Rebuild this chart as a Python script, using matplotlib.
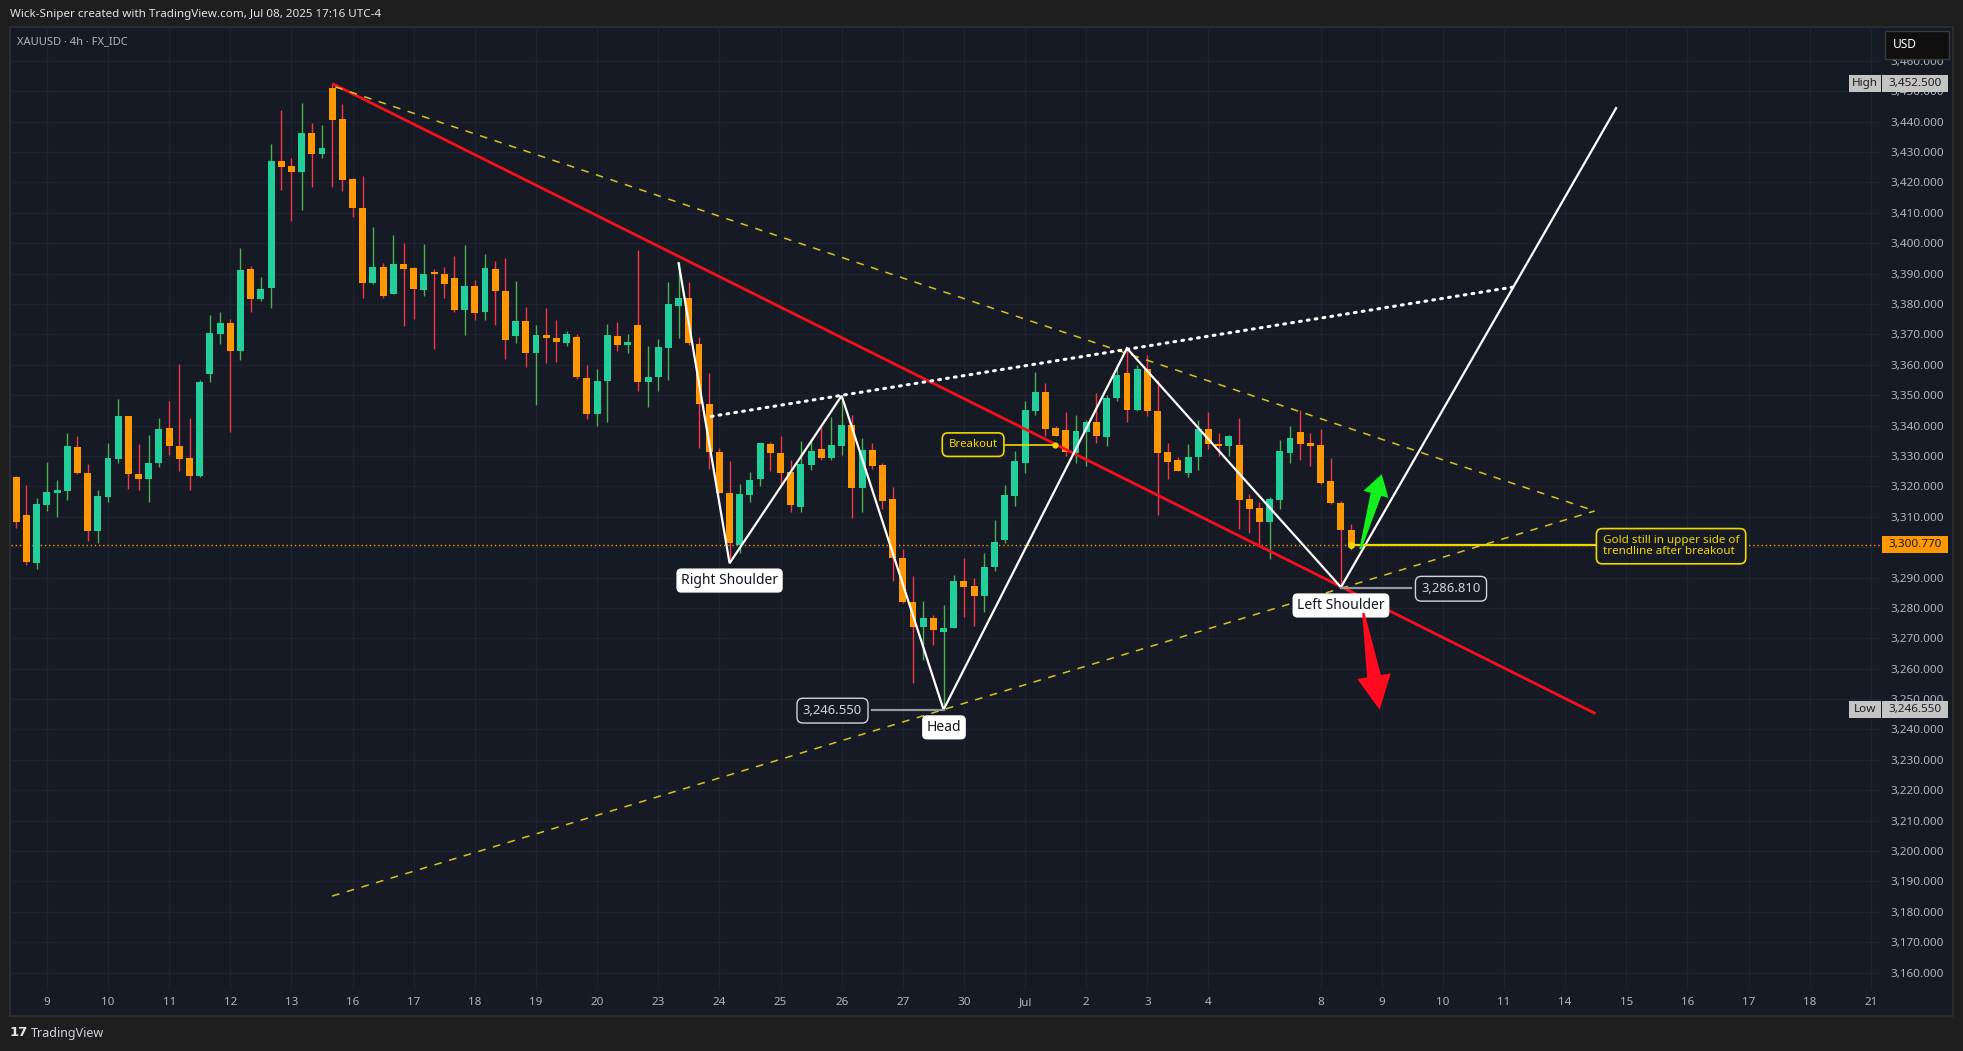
import numpy as np
import matplotlib
matplotlib.use("Agg")
import matplotlib.pyplot as plt
from matplotlib.patches import Rectangle, Polygon
from matplotlib.transforms import blended_transform_factory, IdentityTransform

plt.rcParams['font.family'] = ['Noto Sans', 'DejaVu Sans']

# ---------------- data ----------------
first_bar = -3  # bar index of first candle (0 = first bar of Jun 9)
opens = [3323.1, 3310.6, 3294.9, 3314.0, 3317.9, 3318.6, 3333.0, 3324.4, 3305.4, 3316.6,
         3329.1, 3343.2, 3324.1, 3322.5, 3327.8, 3339.2, 3333.3, 3329.3, 3323.4, 3356.8,
         3370.2, 3373.7, 3364.6, 3391.5, 3381.7, 3385.4, 3427.0, 3425.4, 3423.5, 3436.2,
         3429.4, 3451.0, 3440.8, 3421.1, 3411.6, 3386.9, 3392.2, 3383.4, 3393.2, 3391.7,
         3384.7, 3390.2, 3389.9, 3388.5, 3378.1, 3385.9, 3377.5, 3391.5, 3384.3, 3369.6,
         3374.4, 3363.7, 3369.8, 3368.7, 3367.3, 3369.1, 3355.7, 3343.9, 3354.5, 3369.5,
         3366.6, 3373.1, 3354.4, 3356.1, 3365.6, 3379.4, 3382.0, 3366.8, 3347.1, 3331.4,
         3317.7, 3300.7, 3317.2, 3322.4, 3333.9, 3330.9, 3324.6, 3313.3, 3327.0, 3332.3,
         3329.2, 3333.3, 3340.2, 3319.4, 3332.0, 3327.0, 3315.8, 3296.3, 3282.1, 3273.6,
         3276.8, 3272.0, 3273.3, 3288.7, 3287.2, 3284.0, 3293.3, 3302.2, 3316.8, 3327.8,
         3344.8, 3351.0, 3339.3, 3338.6, 3330.9, 3337.9, 3341.2, 3336.2, 3349.2, 3357.3,
         3345.1, 3358.6, 3344.8, 3331.3, 3328.7, 3324.5, 3329.5, 3338.9, 3333.9, 3333.1,
         3333.6, 3315.9, 3312.8, 3308.1, 3315.5, 3331.1, 3338.0, 3334.2, 3333.6, 3321.6,
         3314.6, 3305.7]
highs = [3323.4, 3320.5, 3316.2, 3328.0, 3322.1, 3337.6, 3336.6, 3327.4, 3318.8, 3334.2,
         3348.7, 3343.2, 3334.0, 3336.9, 3342.5, 3348.1, 3360.3, 3342.5, 3355.0, 3376.4,
         3377.4, 3375.1, 3398.4, 3392.5, 3388.9, 3432.6, 3443.8, 3428.0, 3446.1, 3439.5,
         3438.9, 3452.5, 3445.8, 3421.5, 3422.1, 3405.3, 3393.5, 3402.7, 3400.1, 3392.2,
         3399.7, 3391.5, 3392.2, 3395.8, 3399.4, 3387.9, 3396.4, 3394.1, 3395.0, 3387.6,
         3379.0, 3373.1, 3378.7, 3374.7, 3371.1, 3370.0, 3359.9, 3358.6, 3373.4, 3374.1,
         3370.1, 3397.8, 3366.0, 3368.5, 3387.3, 3393.4, 3387.3, 3369.2, 3357.2, 3332.5,
         3328.3, 3320.8, 3324.8, 3334.2, 3334.6, 3336.6, 3328.7, 3335.0, 3335.5, 3339.6,
         3342.7, 3349.5, 3343.5, 3335.8, 3334.2, 3327.6, 3319.7, 3299.3, 3290.5, 3282.4,
         3277.7, 3281.0, 3290.9, 3296.3, 3289.8, 3298.2, 3309.0, 3320.5, 3331.6, 3347.9,
         3357.6, 3353.9, 3339.9, 3344.5, 3343.5, 3341.8, 3350.6, 3350.1, 3359.9, 3365.4,
         3359.9, 3363.2, 3355.0, 3334.2, 3329.6, 3334.0, 3341.8, 3344.4, 3337.7, 3336.9,
         3342.6, 3317.5, 3315.0, 3316.6, 3335.3, 3339.9, 3345.1, 3337.5, 3338.8, 3329.2,
         3315.3, 3307.6]
lows = [3306.4, 3294.1, 3292.8, 3312.0, 3310.0, 3315.5, 3324.1, 3302.1, 3301.3, 3315.0,
        3327.6, 3319.2, 3318.9, 3315.0, 3326.5, 3330.3, 3325.2, 3318.8, 3323.2, 3354.4,
        3366.8, 3338.0, 3361.6, 3377.2, 3381.1, 3378.8, 3417.5, 3407.4, 3410.9, 3418.6,
        3428.1, 3418.3, 3417.3, 3408.7, 3382.1, 3386.7, 3382.1, 3383.4, 3372.9, 3375.2,
        3382.7, 3365.3, 3381.8, 3377.5, 3369.9, 3374.8, 3374.8, 3373.2, 3362.0, 3367.0,
        3359.4, 3346.9, 3360.7, 3361.0, 3366.0, 3355.3, 3342.0, 3339.7, 3341.3, 3364.5,
        3364.0, 3351.4, 3346.2, 3351.2, 3355.1, 3368.9, 3366.5, 3332.5, 3325.7, 3317.7,
        3294.7, 3298.0, 3315.0, 3320.1, 3325.2, 3321.0, 3311.4, 3311.7, 3325.4, 3328.5,
        3328.5, 3330.3, 3309.5, 3311.4, 3325.6, 3312.7, 3288.7, 3281.5, 3255.2, 3262.9,
        3267.8, 3246.55, 3273.3, 3276.9, 3273.9, 3278.5, 3292.3, 3301.5, 3313.6, 3324.5,
        3343.5, 3336.4, 3336.4, 3330.1, 3327.8, 3326.8, 3334.4, 3333.1, 3347.9, 3341.3,
        3344.8, 3343.2, 3310.6, 3322.4, 3324.9, 3322.9, 3325.4, 3332.3, 3330.1, 3330.1,
        3306.0, 3304.6, 3300.2, 3296.0, 3312.6, 3327.8, 3328.7, 3326.8, 3320.7, 3314.2,
        3286.81, 3298.9]
closes = [3308.4, 3295.2, 3314.2, 3318.2, 3318.8, 3333.3, 3324.5, 3305.4, 3316.8, 3329.3,
          3343.2, 3324.2, 3322.5, 3327.7, 3338.9, 3333.1, 3329.1, 3323.5, 3354.3, 3370.5,
          3373.7, 3364.6, 3391.2, 3381.7, 3384.9, 3427.0, 3425.2, 3423.5, 3436.2, 3429.4,
          3431.3, 3440.5, 3420.9, 3411.4, 3387.0, 3392.2, 3382.7, 3393.2, 3391.6, 3385.0,
          3389.9, 3390.0, 3386.7, 3378.1, 3385.9, 3377.1, 3391.8, 3384.4, 3368.0, 3374.4,
          3363.7, 3369.8, 3368.9, 3367.6, 3370.1, 3355.8, 3343.9, 3354.7, 3369.8, 3366.5,
          3367.5, 3354.4, 3356.0, 3365.8, 3380.0, 3382.0, 3367.3, 3347.0, 3331.4, 3317.7,
          3301.5, 3317.5, 3322.1, 3334.2, 3330.8, 3324.5, 3313.7, 3327.2, 3331.5, 3329.2,
          3333.5, 3340.2, 3319.4, 3332.0, 3326.8, 3315.3, 3296.3, 3281.8, 3273.6, 3276.6,
          3272.8, 3273.5, 3288.7, 3287.0, 3284.0, 3293.4, 3301.7, 3317.2, 3328.3, 3345.1,
          3351.0, 3339.0, 3336.6, 3331.4, 3338.2, 3341.2, 3336.7, 3349.2, 3356.6, 3345.1,
          3358.6, 3344.8, 3331.1, 3328.1, 3325.2, 3329.5, 3338.9, 3333.8, 3333.1, 3336.6,
          3315.5, 3312.6, 3308.1, 3315.7, 3331.6, 3336.0, 3333.9, 3333.4, 3321.1, 3314.4,
          3305.7, 3300.77]

day_labels = ['9', '10', '11', '12', '13', '16', '17', '18', '19', '20', '23', '24', '25',
              '26', '27', '30', 'Jul', '2', '3', '4', '8', '9', '10', '11', '14', '15',
              '16', '17', '18', '21']
day_label_bars = [0, 6, 12, 18, 24, 30, 36, 42, 48, 54, 60, 66, 72, 78, 84, 90, 96, 102,
                  108, 114, 125, 131, 137, 143, 149, 155, 161, 167, 173, 179]
price_ticks = list(range(3160, 3461, 10))

last_price = 3300.77
high_price = 3452.5
low_price = 3246.55

# drawing anchors (bar index, price)
red_trend_x = [28.0, 152.0]
red_trend_y = [3452.5, 3245.2]
upper_dash_x = [28.3, 151.9]
upper_dash_y = [3451.4, 3311.9]
lower_dash_x = [28.0, 151.9]
lower_dash_y = [3185.2, 3311.9]
zigzag_x = [62, 67, 78, 88, 106, 127, 154]
zigzag_y = [3393.4, 3294.7, 3349.8, 3246.55, 3365.4, 3286.81, 3444.4]
neck_x = [65.2, 143.8]
neck_y = [3343.0, 3385.5]
green_arrow = [(128.9, 3299.3), (131.0, 3324.0)]
red_arrow = [(129.2, 3278.3), (130.8, 3246.5)]

# ---------------- layout ----------------
W, H = 1963, 1051
BG_OUT = '#1e1e1e'
BG = '#161a25'
GRID = '#1f2330'
TXT = '#b2b5be'
GREEN = '#22cf9b'
ORANGE = '#ff9800'
GREEN_WICK = '#4caf50'
RED_WICK = '#f23645'
YEL = '#f2d600'
DASH_YEL = '#d4c41c'

fig = plt.figure(figsize=(W / 100, H / 100), dpi=100, facecolor=BG_OUT)


def fx(px):
    return px / W


def fy(py):
    return 1 - py / H


# panel
fig.patches.append(Rectangle((fx(10), fy(1016)), fx(1953) - fx(10), fy(27) - fy(1016),
                             transform=fig.transFigure, fc=BG, ec='#2c2f38', lw=1.2, zorder=-5))

ax_l, ax_r, ax_t, ax_b = 11, 1881, 27, 990
ax = fig.add_axes([fx(ax_l), fy(ax_b), fx(ax_r) - fx(ax_l), fy(ax_t) - fy(ax_b)])
ax.set_facecolor('none')
for s in ax.spines.values():
    s.set_visible(False)
ax.set_xlim(-3.52, 180.0)
ax.set_ylim(3154.3, 3471.1)

# grid
for p in price_ticks:
    ax.axhline(p, color=GRID, lw=0.9, zorder=0)
for b in day_label_bars:
    ax.axvline(b, color=GRID, lw=0.9, zorder=0)

# candles
o = np.array(opens); h = np.array(highs); l = np.array(lows); c = np.array(closes)
x = np.arange(len(o)) + first_bar
up = c >= o
ax.vlines(x, l, h, colors=np.where(up, GREEN_WICK, RED_WICK), lw=1.0, zorder=2)
bottoms = np.minimum(o, c)
heights = np.maximum(np.abs(c - o), 0.35)
ax.bar(x, heights, bottom=bottoms, width=0.68, color=np.where(up, GREEN, ORANGE),
       linewidth=0, zorder=3)

# last price dotted line
ax.axhline(last_price, color=ORANGE, lw=1.0, ls=(0, (1, 2)), zorder=1)

# trend lines
ax.plot(red_trend_x, red_trend_y, color='#f5101c', lw=2.0, zorder=5, solid_capstyle='butt')
ax.plot(upper_dash_x, upper_dash_y, color=DASH_YEL, lw=1.1, ls=(0, (5, 5)), zorder=5)
ax.plot(lower_dash_x, lower_dash_y, color=DASH_YEL, lw=1.1, ls=(0, (5, 5)), zorder=5)
ax.plot(zigzag_x, zigzag_y, color='white', lw=1.6, zorder=6, solid_joinstyle='miter')
ax.plot(neck_x, neck_y, color='white', lw=2.2, ls=(0, (0.6, 2.0)), dash_capstyle='round', zorder=6)

# ticks
ax.yaxis.tick_right()
ax.set_yticks(price_ticks)
ax.set_yticklabels([f"{v:,.3f}" for v in price_ticks])
ax.tick_params(axis='y', length=0, pad=6.5, labelsize=8.4, labelcolor=TXT)
ax.set_xticks(day_label_bars)
ax.set_xticklabels(day_labels)
ax.tick_params(axis='x', length=0, pad=5, labelsize=8.4, labelcolor=TXT)
for t in ax.get_xticklabels():
    if t.get_text() == 'Jul':
        t.set_fontweight('bold')

# labels on chart
def white_label(xv, yv, txt):
    ax.text(xv, yv, txt, ha='center', va='center', fontsize=10, color='#131722', zorder=9,
            bbox=dict(boxstyle='round,pad=0.28,rounding_size=0.3', fc='white', ec='white', lw=1))


def dark_label(xv, yv, txt):
    ax.text(xv, yv, txt, ha='center', va='center', fontsize=9.4, color='#d1d4dc', zorder=9,
            bbox=dict(boxstyle='round,pad=0.45,rounding_size=0.45', fc=BG, ec='#d1d4dc', lw=1))


white_label(67.0, 3289.0, 'Right Shoulder')
white_label(88.04, 3240.7, 'Head')
white_label(127.0, 3280.8, 'Left Shoulder')

ax.plot([81.0, 88.0], [low_price, low_price], color='#9598a1', lw=1.6, zorder=7)
dark_label(77.1, 3246.2, '3,246.550')
ax.plot([127.0, 133.9], [3286.5, 3286.5], color='#9598a1', lw=1.6, zorder=7)
dark_label(137.8, 3286.3, '3,286.810')

ax.plot([94.0, 98.9], [3333.7, 3333.7], color=YEL, lw=1.2, zorder=7)
ax.plot([98.9], [3333.7], 'o', color=YEL, ms=3.5, zorder=8)
ax.text(90.9, 3333.7, 'Breakout', ha='center', va='center', fontsize=8.2, color=YEL, zorder=9,
        bbox=dict(boxstyle='round,pad=0.55,rounding_size=0.5', fc=BG, ec=YEL, lw=1.2))

ax.plot([128.0, 151.9], [last_price, last_price], color=YEL, lw=1.6, zorder=7)
ax.plot([128.0], [last_price], 'o', color=YEL, ms=4, zorder=8)
ax.text(152.7, 3300.3, 'Gold still in upper side of\ntrendline after breakout', ha='left',
        va='center', fontsize=8.4, color=YEL, zorder=9, linespacing=1.05,
        bbox=dict(boxstyle='round,pad=0.55,rounding_size=0.5', fc=BG, ec=YEL, lw=1.2))


# fat arrows (drawn in pixel space)
def fat_arrow(tail, tip, head_len, head_w, w_tail, w_neck, color):
    T = ax.transData.transform(tail)
    P = ax.transData.transform(tip)
    d = (P - T) / np.hypot(*(P - T))
    n = np.array([-d[1], d[0]])
    B = P - d * head_len
    pts = [T + n * w_tail / 2, B + n * w_neck / 2, B + n * head_w / 2, P,
           B - n * head_w / 2, B - n * w_neck / 2, T - n * w_tail / 2]
    fig.patches.append(Polygon(pts, closed=True, transform=IdentityTransform(),
                               fc=color, ec='none', zorder=8))


fat_arrow(green_arrow[0], green_arrow[1], 21, 26, 2, 11, '#14f01e')
fat_arrow(red_arrow[0], red_arrow[1], 34, 34, 2.5, 14, '#ff0a1e')

# price axis tags
bt = blended_transform_factory(ax.transAxes, ax.transData)


def ax_x(px):
    return (px - ax_l) / (ax_r - ax_l)


def tag(price, txt, x0, x1, bg, fg):
    hgt = 17 / 3.04
    ax.add_patch(Rectangle((ax_x(x0), price - hgt / 2), ax_x(x1) - ax_x(x0), hgt, transform=bt,
                           fc=bg, ec='none', clip_on=False, zorder=20))
    ax.text((ax_x(x0) + ax_x(x1)) / 2, price, txt, transform=bt, ha='center', va='center',
            fontsize=8.4, color=fg, clip_on=False, zorder=21)


tag(high_price, 'High', 1849, 1881, '#c4c4c4', '#1e1e1e')
tag(high_price, f"{high_price:,.3f}", 1882, 1948, '#c4c4c4', '#1e1e1e')
tag(low_price, 'Low', 1849, 1881, '#c4c4c4', '#1e1e1e')
tag(low_price, f"{low_price:,.3f}", 1882, 1948, '#c4c4c4', '#1e1e1e')
tag(last_price, f"{last_price:,.3f}", 1882, 1948, ORANGE, '#131722')

# USD box
fig.patches.append(Rectangle((fx(1885), fy(59)), fx(64), fy(0) - fy(28), transform=fig.transFigure,
                             fc='#0f0f0f', ec='#3a3a3a', lw=1, zorder=25))
fig.text(fx(1893), fy(45), 'USD', ha='left', va='center', fontsize=8.6, color='white', zorder=30)

# header texts
fig.text(fx(10), fy(14.5), 'Wick-Sniper created with TradingView.com, Jul 08, 2025 17:16 UTC-4',
         ha='left', va='center', fontsize=8.4, color='#e0e3eb')
fig.text(fx(17), fy(42), 'XAUUSD · 4h · FX_IDC', ha='left', va='center', fontsize=8, color=TXT)

# footer logo
fig.text(fx(10), fy(1033), '17', ha='left', va='center', fontsize=9.5, fontweight='bold',
         color='#e6e6e6', family='DejaVu Sans')
fig.text(fx(31), fy(1033), 'TradingView', ha='left', va='center', fontsize=9, color='#d1d4dc')

fig.savefig('out.png', dpi=100, facecolor=BG_OUT)
